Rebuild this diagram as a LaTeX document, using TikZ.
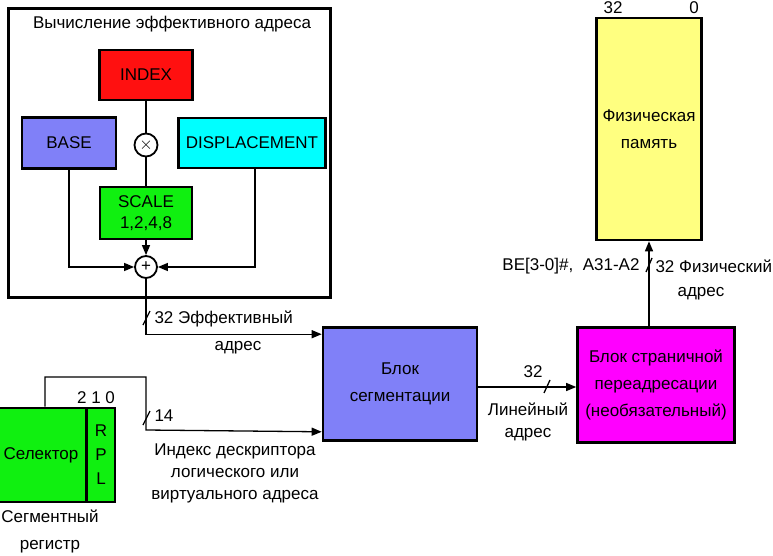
\documentclass[tikz,border=0pt]{standalone}
\usepackage{fontspec}
\setmainfont{Liberation Sans}
\usetikzlibrary{arrows.meta, positioning, calc}
\definecolor{adred}{HTML}{FF1010}
\definecolor{adblue}{HTML}{8080F8}
\definecolor{adcyan}{HTML}{00FFFF}
\definecolor{adgreen}{HTML}{10F010}
\definecolor{admag}{HTML}{FF00FF}
\definecolor{adyel}{HTML}{FFFF80}

\begin{document}
\begin{tikzpicture}[x=1pt, y=-1pt, font=\fontsize{17}{27}\selectfont,
          bx/.style={draw, line width=2.6pt, align=center, inner sep=2pt},
          op/.style={draw, circle, line width=1.8pt, minimum size=23pt, inner sep=0pt},
          ln/.style={line width=1.3pt},
          ar/.style={line width=1.3pt, -{Triangle[length=10pt,width=8pt]}},
          sl/.style={line width=1.3pt}]
  \useasboundingbox (0,0) rectangle (773,556);
  % effective address unit
  \node[draw, line width=3pt, minimum width=322pt, minimum height=289pt] (frame) at (169,153) {};
  \node (title) at (172,24) {Вычисление эффективного адреса};
  \node[bx, fill=adred, minimum width=93pt, minimum height=50pt] (index) at (146,75) {INDEX};
  \node[bx, fill=adblue, minimum width=94pt, minimum height=51pt] (base) at (69,143) {BASE};
  \node[bx, fill=adcyan, minimum width=147pt, minimum height=50pt] (disp) at (252,143) {DISPLACEMENT};
  \node[op] (mul) at (146,145) {$\times$};
  \node[bx, fill=adgreen, minimum width=92pt, minimum height=52pt] (scale) at (146,213) {SCALE\\[-6pt]1,2,4,8};
  \node[op, minimum size=22pt] (plus) at (146,267) {+};
  \draw[ln] (index) -- (mul);
  \draw[ln] (mul) -- (scale);
  \draw[ar] (scale) -- (plus);
  \draw[ar] (base.south) |- (plus.west);
  \draw[ar] ([xshift=3pt]disp.south) |- (plus.east);

  % segmentation, paging, memory
  \node[bx, fill=adblue, minimum width=154pt, minimum height=113pt] (seg) at (400,384) {Блок\\сегментации};
  \node[bx, fill=admag, minimum width=157pt, minimum height=115pt] (page) at (656,385) {Блок страничной\\переадресации\\(необязательный)};
  \node[bx, fill=adyel, minimum width=105pt, minimum height=222pt] (mem) at (649,129) {Физическая\\память};
  \node (m32) at (613,8) {32};
  \node (m0) at (694,8) {0};

  % segment register
  \node[bx, fill=adgreen, minimum width=107pt, minimum height=94pt] (sel) at (33,455) {};
  \node (seltext) at (41,455) {Селектор};
  \node[bx, fill=adgreen, minimum width=28pt, minimum height=94pt] (rpl) at (101,455) {R\\[-3pt]P\\[-3pt]L};
  \node (bits) at (96,398) {2 1 0};
  \node[align=center] (sreg) at (50,531) {Сегментный\\регистр};

  % effective address to segmentation
  \draw[ar] (plus.south) |- ([yshift=-8pt]seg.north west);
  \draw[sl] (143,325) -- (150,311);
  \node[anchor=west] (ea) at (151,319) {32 Эффективный};
  \node (eaa) at (238,348) {адрес};

  % selector index to segmentation
  \draw[ar] ([xshift=12pt]sel.north) |- (146,377) -- (146,430) -- ([yshift=10pt]seg.south west);
  \draw[sl] (143,425) -- (150,411);
  \node[anchor=west] (n14) at (151,416) {14};
  \node[align=center] (idx) at (235,473) {Индекс дескриптора\\[-5pt]логического или\\[-5pt]виртуального адреса};

  % linear address
  \draw[ar] (seg.east |- 0,387) -- (page.west |- 0,387);
  \draw[sl] (544,393) -- (550,380);
  \node (l32) at (533,372) {32};
  \node[align=center] (lin) at (528,422) {Линейный\\[-5pt]адрес};

  % physical address
  \draw[ar] (page.north -| mem.south) -- (mem.south);
  \draw[sl] (646,272) -- (652,258);
  \node[anchor=east] (be) at (643,266) {BE[3-0]\#,\ \ A31-A2};
  \node[anchor=west] (pa) at (652,266) {32 Физический};
  \node (paa) at (701,294) {адрес};
\end{tikzpicture}
\end{document}
